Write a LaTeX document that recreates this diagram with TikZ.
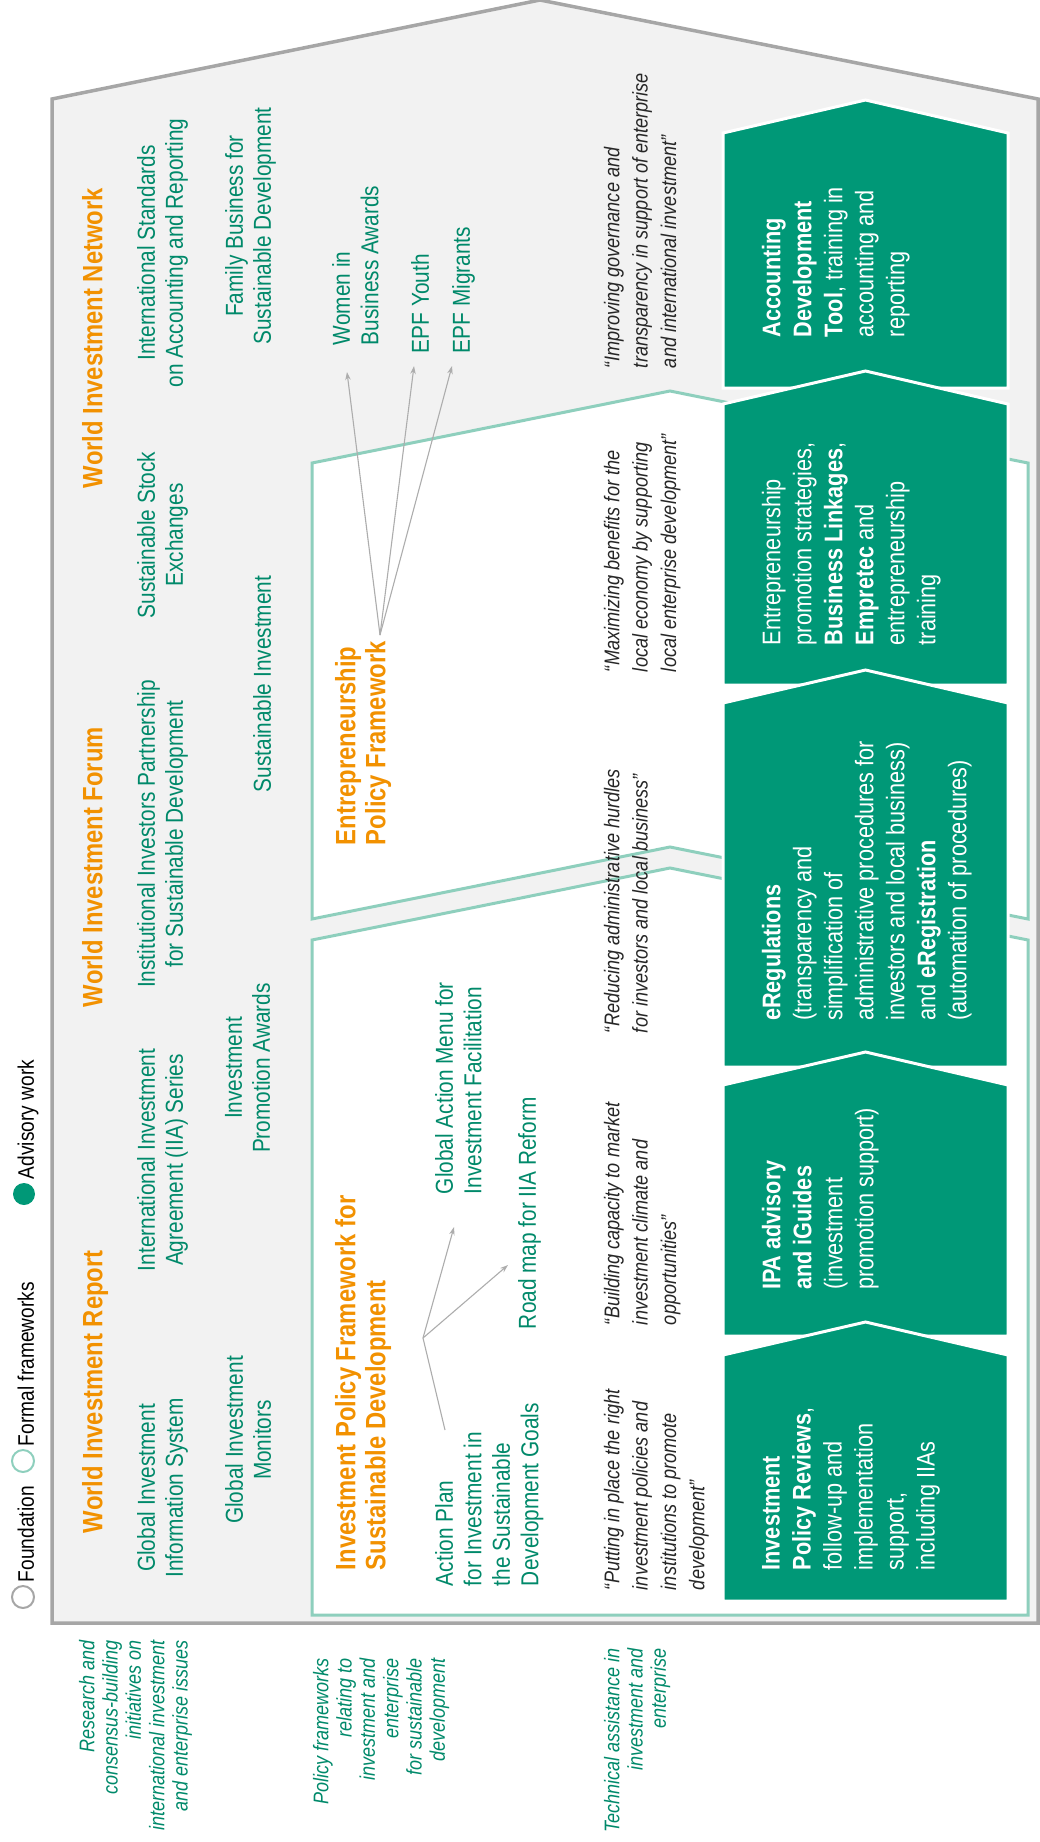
\documentclass[tikz,border=0pt]{standalone}
\usepackage{fontspec}
\setmainfont{Liberation Sans}[FakeStretch=0.85]
\usetikzlibrary{arrows.meta}
\definecolor{greybg}{HTML}{F2F2F2}
\definecolor{greyline}{HTML}{A6A6A6}
\definecolor{mint}{HTML}{8ECFBD}
\definecolor{ugreen}{HTML}{009877}
\definecolor{tgreen}{HTML}{00896A}
\definecolor{uorange}{HTML}{F29100}
\definecolor{qgrey}{HTML}{262626}
\definecolor{agrey}{HTML}{ADADAD}
\begin{document}
\begin{tikzpicture}[x=1pt,y=-1pt,
 rot/.style={rotate=90, inner sep=0pt, outer sep=0pt},
 head/.style={rot, text=uorange, font=\fontsize{28}{30}\selectfont\bfseries, align=left, anchor=north west},
 gitem/.style={rot, text=tgreen, font=\fontsize{24.5}{28}\selectfont, align=center, anchor=north},
 gleft/.style={rot, text=tgreen, font=\fontsize{24.5}{28.5}\selectfont, align=left, anchor=north west},
 quote/.style={rot, text=qgrey, font=\fontsize{21.3}{28.3}\selectfont\itshape, align=left, anchor=north west},
 boxtext/.style={rot, text=white, font=\fontsize{25.5}{31}\selectfont, align=left, anchor=north},
 sidelabel/.style={rot, text=tgreen, font=\fontsize{21.2}{23.3}\selectfont\itshape, align=right, anchor=north east},
 legtext/.style={rot, text=black, font=\fontsize{22.5}{26}\selectfont, anchor=base west},
 gbox/.style={fill=ugreen, draw=white, line width=3pt, line join=miter},
 frame/.style={draw=mint, line width=3pt, fill=white},
 arr/.style={draw=agrey, line width=1.1pt, -{Stealth[length=8pt,width=5.5pt]}},
 conn/.style={draw=agrey, line width=1.1pt},
]
\useasboundingbox (0,0) rectangle (1040,1842);

% outer foundation house
\draw[draw=greyline, line width=3.5pt, fill=greybg] (52,1623) -- (52,99) -- (540,0) -- (1038,99) -- (1038,1623) -- cycle;

% formal framework shapes
\draw[frame] (312,919) -- (312,463) -- (670,391) -- (1028,463) -- (1028,919) -- (670,847) -- cycle;
\draw[frame] (312,1615) -- (312,940) -- (670,868) -- (1028,940) -- (1028,1615) -- cycle;

% advisory boxes
\path[gbox] (723,388) -- (723,133) -- (865.5,100) -- (1008,133) -- (1008,388) -- cycle;
\path[gbox] (723,685) -- (723,404) -- (865.5,371) -- (1008,404) -- (1008,685) -- cycle;
\path[gbox] (723,1067) -- (723,703) -- (865.5,670) -- (1008,703) -- (1008,1067) -- cycle;
\path[gbox] (723,1336) -- (723,1085) -- (865.5,1052) -- (1008,1085) -- (1008,1336) -- cycle;
\path[gbox] (723,1601) -- (723,1355) -- (865.5,1322) -- (1008,1355) -- (1008,1601) -- cycle;

% legend
\draw[greyline, line width=2pt, fill=white] (23,1597) circle (11);
\node[legtext] (lfound) at (34,1582) {Foundation};
\draw[mint, line width=2pt, fill=white] (23,1461) circle (11);
\node[legtext] (lformal) at (34,1446) {Formal frameworks};
\fill[ugreen] (24,1194) circle (11);
\node[legtext] (ladv) at (34,1179) {Advisory work};

% headings research band
\node[head] (wir) at (82,1533) {World Investment Report};
\node[head] (wif) at (82,1007) {World Investment Forum};
\node[head] (win) at (82,488) {World Investment Network};

% research items
\node[gitem] (giis) at (137,1488) {Global Investment\\Information System};
\node[gitem] (iia) at (137,1160) {International Investment\\Agreement (IIA) Series};
\node[gitem] (iip) at (137,834) {Institutional Investors Partnership\\for Sustainable Development};
\node[gitem] (sse) at (137,535) {Sustainable Stock\\Exchanges};
\node[gitem] (isar) at (137,253) {International Standards\\on Accounting and Reporting};
\node[gitem] (gim) at (225,1440) {Global Investment\\Monitors};
\node[gitem] (ipaw) at (225,1068) {Investment\\Promotion Awards};
\node[gitem] (sinv) at (253,684) {Sustainable Investment};
\node[gitem] (fbsd) at (225,226) {Family Business for\\Sustainable Development};

\node[gleft] (women) at (332,345) {Women in\\Business Awards};
\node[gleft] (youth) at (411,353) {EPF Youth};
\node[gleft] (migr) at (452,353) {EPF Migrants};

% frameworks
\node[head] (epf) at (335,845) {Entrepreneurship\\Policy Framework};
\node[head] (ipfsd) at (335,1570) {Investment Policy Framework for\\Sustainable Development};
\node[gleft] (apsdg) at (435,1586) {Action Plan\\for Investment in\\the Sustainable\\Development Goals};
\node[gleft] (gam) at (435,1194) {Global Action Menu for\\Investment Facilitation};
\node[gleft] (road) at (518,1329) {Road map for IIA Reform};

% connectors
\coordinate (epfo) at (380,635);
\coordinate (twomen) at (347,372);
\coordinate (tyouth) at (414,366);
\coordinate (tmigr) at (452,366);
\draw[arr] (epfo) -- (twomen);
\draw[arr] (epfo) -- (tyouth);
\draw[arr] (epfo) -- (tmigr);
\coordinate (ipo) at (423,1338);
\coordinate (ipstart) at (445,1430);
\coordinate (tgam) at (454,1227);
\coordinate (troad) at (508,1265);
\draw[conn] (ipstart) -- (ipo);
\draw[arr] (ipo) -- (tgam);
\draw[arr] (ipo) -- (troad);

% quotes
\node[quote] (q1) at (604,1590) {“Putting in place the right\\investment policies and\\institutions to promote\\development”};
\node[quote] (q2) at (604,1325) {“Building capacity to market\\investment climate and\\opportunities”};
\node[quote] (q3) at (604,1033) {“Reducing administrative hurdles\\for investors and local business”};
\node[quote] (q4) at (604,672) {“Maximizing benefits for the\\local economy by supporting\\local enterprise development”};
\node[quote] (q5) at (604,368) {“Improving governance and\\transparency in support of enterprise\\and international investment”};

% box texts
\node[boxtext] (tacc) at (762,262) {\textbf{Accounting}\\\textbf{Development}\\\textbf{Tool}, training in\\accounting and\\reporting};
\node[boxtext] (tentr) at (762,544) {Entrepreneurship\\promotion strategies,\\\textbf{Business Linkages},\\\textbf{Empretec} and\\entrepreneurship\\training};
\node[boxtext] (tereg) at (762,881) {\textbf{eRegulations}\\(transparency and\\simplification of\\administrative procedures for\\investors and local business)\\and \textbf{eRegistration}\\(automation of procedures)};
\node[boxtext] (tipa) at (762,1199) {\textbf{IPA advisory}\\\textbf{and iGuides}\\(investment\\promotion support)};
\node[boxtext] (tipr) at (762,1489) {\textbf{Investment}\\\textbf{Policy Reviews},\\follow-up and\\implementation\\support,\\including IIAs};

% side labels
\node[sidelabel] (lres) at (79,1640) {Research and\\consensus-building\\initiatives on\\international investment\\and enterprise issues};
\node[sidelabel] (lpol) at (313,1658) {Policy frameworks\\relating to\\investment and\\enterprise\\for sustainable\\development};
\node[sidelabel] (ltech) at (604,1648) {Technical assistance in\\investment and\\enterprise};
\end{tikzpicture}
\end{document}
